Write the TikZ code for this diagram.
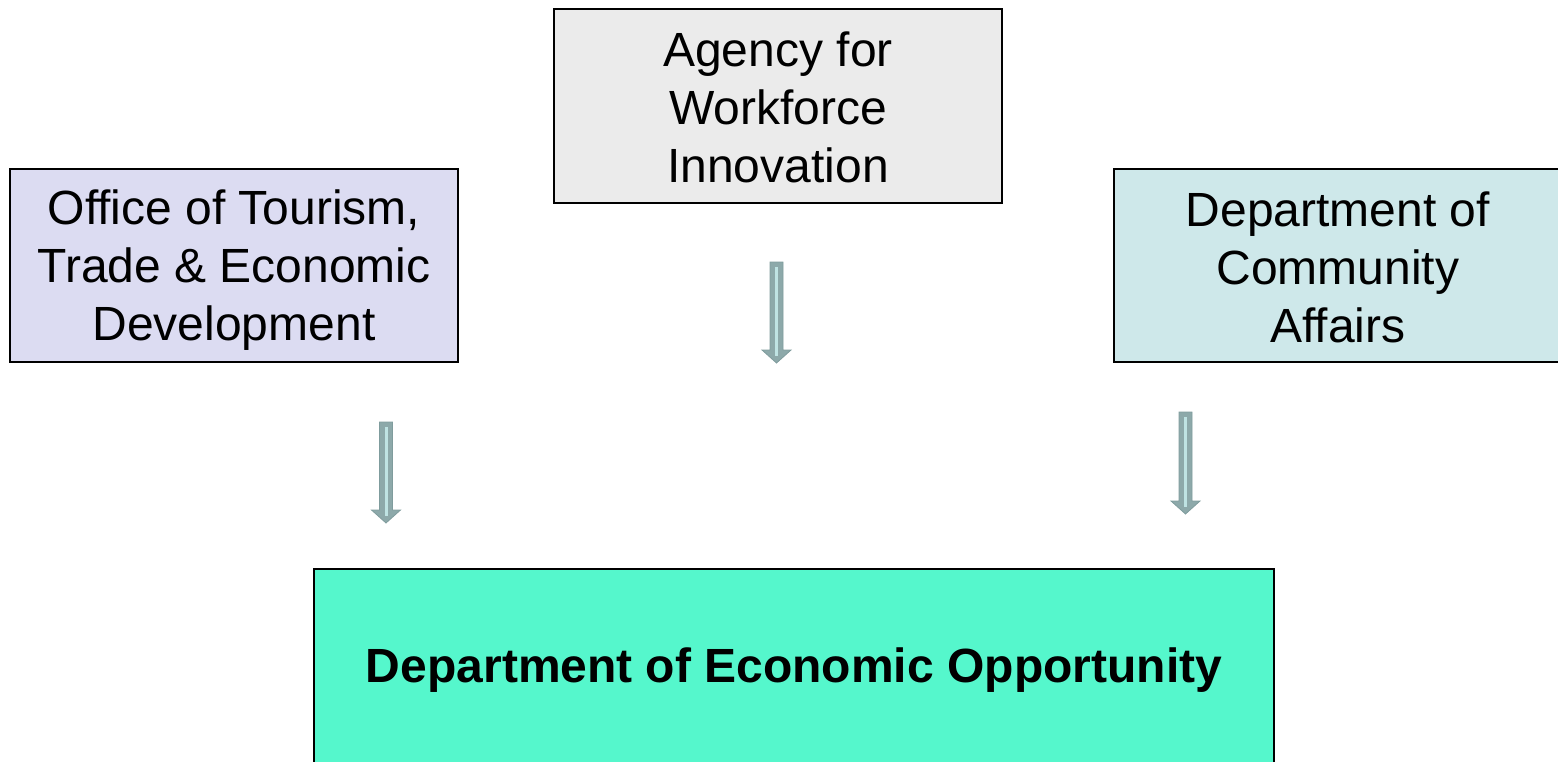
\documentclass[tikz,border=0pt]{standalone}
\usepackage{fontspec}
\setmainfont{Liberation Sans}
\usetikzlibrary{calc}
\definecolor{lavbox}{HTML}{DCDCF2}
\definecolor{graybox}{HTML}{EBEBEB}
\definecolor{cyanbox}{HTML}{CEE8EA}
\definecolor{greenbox}{HTML}{55F7CC}
\definecolor{arrowfill}{HTML}{8DA9AA}
\definecolor{arrowedge}{HTML}{7F9C9D}
\definecolor{arrowinner}{HTML}{BFE3E3}
\tikzset{
  orgbox/.style={draw=black, line width=1.6pt, rectangle, inner sep=0pt},
  orgtext/.style={align=center, font=\fontsize{48}{58}\selectfont, inner sep=0pt},
  maintext/.style={align=center, font=\fontsize{48}{56}\selectfont\bfseries, inner sep=0pt},
}
\newcommand\ShaftArrow[2]{%
  \fill[arrowfill, draw=arrowedge, line width=0.8pt]
    ($(#1)+(-6.5,0)$) -- ($(#1)+(6.5,0)$) -- ($(#2)+(6.5,-13)$) -- ($(#2)+(14.5,-13)$)
    -- (#2) -- ($(#2)+(-14.5,-13)$) -- ($(#2)+(-6.5,-13)$) -- cycle;
  \draw[arrowinner, line width=3pt] ($(#1)+(0,5)$) -- ($(#2)+(0,-7)$);
}
\begin{document}
\begin{tikzpicture}[x=1pt,y=-1pt]
\useasboundingbox (0,0) rectangle (1558,761);
\node[orgbox, fill=lavbox, minimum width=448pt, minimum height=193pt] (otted) at (234,265.5) {};
\node[orgtext] (otted-t) at ($(otted.center)+(0,5)$)
  {Office of Tourism,\\Trade \& Economic\\Development};
\node[orgbox, fill=graybox, minimum width=448pt, minimum height=194pt] (awi) at (778,106) {};
\node[orgtext] (awi-t) at ($(awi.center)+(0,1)$)
  {Agency for\\Workforce\\Innovation};
\node[orgbox, fill=cyanbox, minimum width=448pt, minimum height=193pt] (dca) at (1338,265.5) {};
\node[orgtext] (dca-t) at ($(dca.center)+(0,1.5)$)
  {Department of\\Community\\Affairs};
\node[orgbox, fill=greenbox, minimum width=960pt, minimum height=196pt] (deo) at (794,667) {};
\node[maintext] (deo-t) at ($(deo.center)+(0,3)$)
  {Department of Economic Opportunity};
\coordinate (a1top) at (776.5,262);
\coordinate (a1tip) at (776.5,363);
\coordinate (a2top) at (386,422);
\coordinate (a2tip) at (386,523);
\coordinate (a3top) at (1185.5,412);
\coordinate (a3tip) at (1185.5,514);
\ShaftArrow{a1top}{a1tip}
\ShaftArrow{a2top}{a2tip}
\ShaftArrow{a3top}{a3tip}
\end{tikzpicture}
\end{document}
